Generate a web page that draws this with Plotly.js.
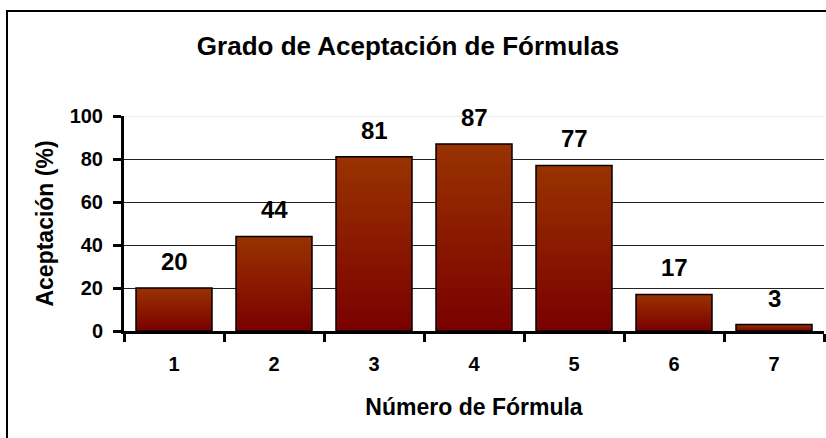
<!DOCTYPE html>
<html>
<head>
<meta charset="utf-8">
<script src="https://cdn.plot.ly/plotly-3.0.1.min.js"></script>
<style>
  html, body { margin: 0; padding: 0; background: #fff; }
  #wrap { position: relative; width: 826px; height: 438px; overflow: hidden; }
  #chart { width: 826px; height: 438px; }
  #frame { position: absolute; left: 6px; top: 10px; right: -10px; bottom: -10px;
           border-top: 2px solid #000; border-left: 2px solid #000; pointer-events: none; }
</style>
</head>
<body>
<div id="wrap">
  <div id="chart"></div>
  <div id="frame"></div>
</div>
<script>
// Data
const categories = ["1", "2", "3", "4", "5", "6", "7"];
const acceptance = [20, 44, 81, 87, 77, 17, 3];
const yTicks = [0, 20, 40, 60, 80, 100];

const FONT = "Liberation Sans, Arial, Helvetica, sans-serif";

const trace = {
  type: "bar",
  x: categories,
  y: acceptance,
  marker: { color: "#8b1a00", line: { color: "#000", width: 1.5 } },
  hoverinfo: "none"
};

// value labels above the bars (x given as category index)
const labels = categories.map((c, i) => ({
  x: i, y: acceptance[i], xref: "x", yref: "y",
  text: String(acceptance[i]), showarrow: false,
  yanchor: "bottom", yshift: 11,
  font: { family: FONT, size: 24, color: "#000", weight: "bold" }
}));

const layout = {
  width: 826, height: 438,
  margin: { l: 124, r: 2, t: 116, b: 107 },
  paper_bgcolor: "rgba(0,0,0,0)",
  plot_bgcolor: "rgba(0,0,0,0)",
  showlegend: false,
  bargap: 0.24,
  title: {
    text: "Grado de Aceptación de Fórmulas",
    x: 0.494, xanchor: "center", xref: "container",
    y: 1 - 46 / 438, yanchor: "middle", yref: "container",
    font: { family: FONT, size: 26, color: "#000", weight: "bold" }
  },
  xaxis: {
    type: "category",
    range: [-0.5, categories.length - 0.5],
    showline: true, linecolor: "#000", linewidth: 3,
    ticks: "outside", tickson: "boundaries", ticklen: 8, tickwidth: 3, tickcolor: "#000",
    ticklabelstandoff: 13,
    showgrid: false,
    tickfont: { family: FONT, size: 20, color: "#000", weight: "bold" },
    title: { text: "Número de Fórmula", standoff: 25,
             font: { family: FONT, size: 23, color: "#000", weight: "bold" } }
  },
  yaxis: {
    range: [0, 100], tickvals: yTicks,
    showline: true, linecolor: "#000", linewidth: 3,
    ticks: "outside", ticklen: 8, tickwidth: 3, tickcolor: "#000",
    ticklabelstandoff: 6,
    showgrid: true, gridcolor: "#222", gridwidth: 1,
    zeroline: false,
    tickfont: { family: FONT, size: 20, color: "#000", weight: "bold" },
    title: { text: "Aceptación (%)", standoff: 10,
             font: { family: FONT, size: 23, color: "#000", weight: "bold" } }
  },
  shapes: [{
    type: "line", xref: "paper", x0: 0, x1: 1, yref: "y", y0: yTicks[yTicks.length - 1], y1: yTicks[yTicks.length - 1],
    line: { color: "#e4e4e4", width: 1.5 }, layer: "below"
  }],
  annotations: labels
};

Plotly.newPlot("chart", [trace], layout, { displayModeBar: false, staticPlot: true }).then(function (gd) {
  // vertical gradient fill for the bars
  const svg = gd.querySelector("svg.main-svg");
  const NS = "http://www.w3.org/2000/svg";
  let defs = svg.querySelector("defs");
  if (!defs) { defs = document.createElementNS(NS, "defs"); svg.insertBefore(defs, svg.firstChild); }
  const grad = document.createElementNS(NS, "linearGradient");
  grad.setAttribute("id", "barGrad");
  grad.setAttribute("x1", "0"); grad.setAttribute("y1", "0");
  grad.setAttribute("x2", "0"); grad.setAttribute("y2", "1");
  [["0", "#993300"], ["1", "#7a0000"]].forEach(function (s) {
    const st = document.createElementNS(NS, "stop");
    st.setAttribute("offset", s[0]); st.setAttribute("stop-color", s[1]);
    grad.appendChild(st);
  });
  defs.appendChild(grad);
  gd.querySelectorAll(".bars .point path").forEach(function (p) {
    p.style.fill = "url(#barGrad)";
  });
});
</script>
</body>
</html>
